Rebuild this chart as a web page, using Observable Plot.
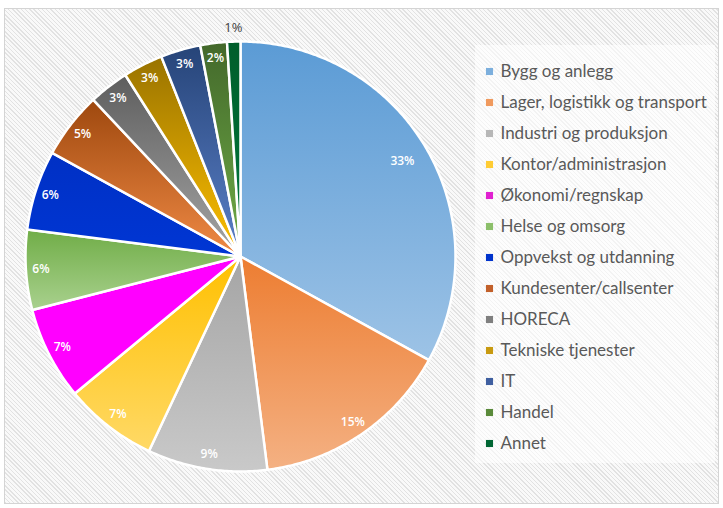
<!DOCTYPE html>
<html><head><meta charset="utf-8">
<script src="https://cdn.jsdelivr.net/npm/d3@7"></script>
<script src="https://cdn.jsdelivr.net/npm/@observablehq/plot@0.6"></script>
<style>
body{margin:0;background:#fff;width:723px;height:508px;position:relative;overflow:hidden}
#frame{position:absolute;left:4px;top:8px;width:713px;height:494px;border:1px solid #d4d4d4;background:repeating-linear-gradient(45deg,#e2e2e2 0 1px,#f9f9f9 1px 3px)}
#legendbox{position:absolute;left:475px;top:45px;width:240px;height:418px;background:rgba(255,255,255,0.6)}
#pie{position:absolute;left:0;top:0}
#legend{position:absolute;left:475px;top:45px}
</style></head><body>
<div id="frame"></div><div id="legendbox"></div><div id="pie"></div><div id="legend"></div>
<script>
const categories = ["Bygg og anlegg","Lager, logistikk og transport","Industri og produksjon","Kontor/administrasjon","Økonomi/regnskap","Helse og omsorg","Oppvekst og utdanning","Kundesenter/callsenter","HORECA","Tekniske tjenester","IT","Handel","Annet"];
const shares = [33,15,9,7,7,6,6,5,3,3,3,2,1];
const labels = ["33%","15%","9%","7%","7%","6%","6%","5%","3%","3%","3%","2%","1%"];
const topColors = ["#5B9BD5","#ED7D31","#A5A5A5","#FFC000","#FF00FF","#70AD47","#0030C4","#9E480E","#5E5E5E","#997300","#264478","#43682B","#005E2B"];
const bottomColors = ["#9DC3E6","#F4B183","#C9C9C9","#FFD966","#FF00FF","#A9D18E","#0036D4","#F08A45","#A5A5A5","#FFC000","#5B80C8","#70AD47","#007A3D"];
const markerColors = ["#7CAFDD","#F09A5E","#B7B7B7","#FFCC33","#E020D0","#8CBF6A","#0033CC","#C2602A","#7F7F7F","#C89A10","#3F5FA0","#5A8A3A","#006633"];

const pie = d3.pie().sort(null).value(d => d)(shares);
const slices = pie.map((p, i) => {
  const n = Math.max(4, Math.ceil((p.endAngle - p.startAngle) / 0.01));
  const pts = [{x: 0, y: 0}];
  for (let k = 0; k <= n; k++) {
    const a = p.startAngle + (p.endAngle - p.startAngle) * k / n;
    pts.push({x: Math.sin(a), y: Math.cos(a)});
  }
  pts.push({x: 0, y: 0});
  return pts;
});
const labelData = pie.map((p, i) => {
  const a = (p.startAngle + p.endAngle) / 2;
  const r = shares[i] < 2 ? 1.065 : shares[i] > 20 ? 0.875 : 0.93;
  return {x: r * Math.sin(a), y: r * Math.cos(a), text: labels[i], inside: shares[i] >= 2};
});

const svg = Plot.plot({
  width: 723, height: 508, margin: 0,
  style: {background: "transparent"},
  x: {domain: [-1, 1], range: [25, 455], axis: null},
  y: {domain: [-1, 1], range: [471, 41], axis: null},
  marks: [
    ...slices.map((pts, i) => Plot.line(pts, {x: "x", y: "y", fill: `url(#g${i})`, stroke: "white", strokeWidth: 2.5, strokeLinejoin: "round"})),
    Plot.text(labelData.filter(d => d.inside), {x: "x", y: "y", text: "text", fill: "white", fontSize: 12, fontWeight: 600, fontFamily: "Open Sans"}),
    Plot.text(labelData.filter(d => !d.inside), {x: "x", y: "y", text: "text", fill: "#404040", fontSize: 13, fontFamily: "Open Sans"})
  ]
});
const defs = d3.select(svg).insert("defs", ":first-child");
categories.forEach((c, i) => {
  const g = defs.append("linearGradient").attr("id", "g" + i).attr("x1", 0).attr("y1", 0).attr("x2", 0).attr("y2", 1);
  g.append("stop").attr("offset", 0).attr("stop-color", topColors[i]);
  g.append("stop").attr("offset", 1).attr("stop-color", bottomColors[i]);
});
document.getElementById("pie").appendChild(svg);

const legend = Plot.plot({
  width: 240, height: 418, margin: 0,
  style: {background: "transparent"},
  x: {domain: [0, 1], axis: null},
  y: {type: "point", domain: categories, range: [25, 399], padding: 0, axis: null},
  marks: [
    Plot.dot(categories, {y: d => d, frameAnchor: "left", dx: 14, symbol: "square", r: 4, fill: (d, i) => markerColors[i]}),
    Plot.text(categories, {y: d => d, text: d => d, frameAnchor: "left", dx: 25, textAnchor: "start", fill: "#595959", fontSize: 17, fontFamily: "Lato"})
  ]
});
document.getElementById("legend").appendChild(legend);
</script>
</body></html>
